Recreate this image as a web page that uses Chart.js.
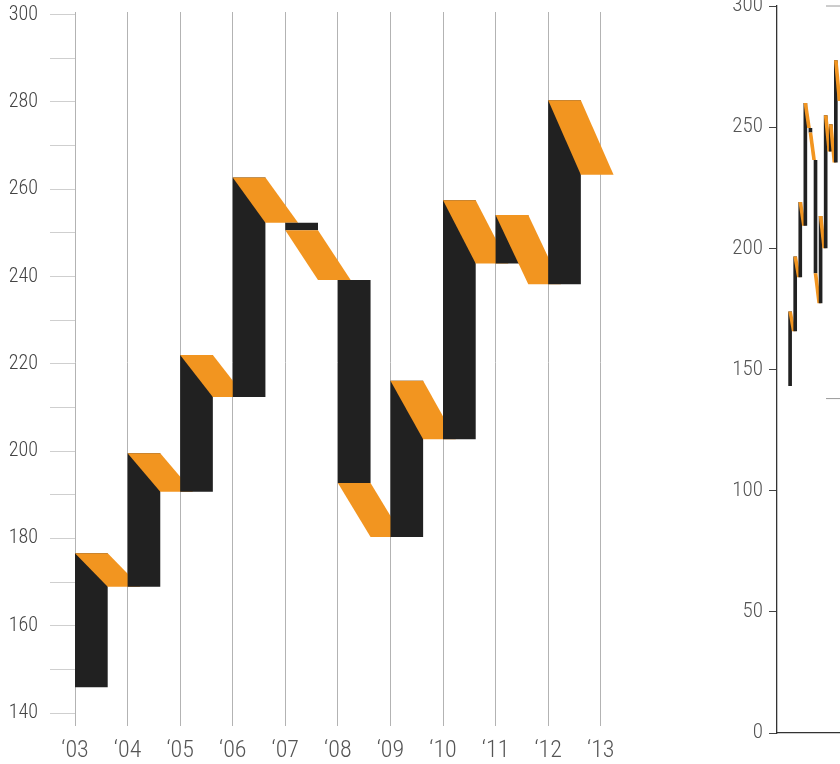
<!DOCTYPE html>
<html>
<head>
<meta charset="utf-8">
<script src="https://cdn.jsdelivr.net/npm/chart.js@4.4.1/dist/chart.umd.min.js"></script>
<style>
  html, body { margin: 0; padding: 0; background: #fff; overflow: hidden; width: 840px; height: 764px; }
  #main { position: absolute; left: 0; top: 0; }
  #inset { position: absolute; left: 700px; top: 0; }
</style>
</head>
<body>
<canvas id="main" width="720" height="764"></canvas>
<canvas id="inset" width="140" height="764"></canvas>
<script>
// anos
const years = ["‘03", "‘04", "‘05", "‘06", "‘07", "‘08", "‘09", "‘10", "‘11", "‘12", "‘13"];

// grafico principal: abertura e fechamento de cada ano
const opens  = [145.9, 168.9, 190.7, 212.4, 252.3, 239.2, 180.3, 202.7, 243.0, 238.2, 263.3];
const closes = [176.6, 199.5, 222.0, 262.7, 250.6, 192.7, 216.1, 257.5, 254.1, 280.4, null];
const yTicks = [140, 150, 160, 170, 180, 190, 200, 210, 220, 230, 240, 250, 260, 270, 280, 290, 300];

const insetOpens  = [143.2, 165.8, 188.1, 209.3, 249.7, 236.4, 177.3, 200.0, 240.0, 235.4, 260.8];
const insetCloses = [173.9, 196.6, 219.1, 260.0, 247.8, 189.7, 213.3, 254.9, 251.2, 277.6, null];
const insetTicks = [0, 50, 100, 150, 200, 250, 300];
const insetMarks = [300, 138];

const BLACK = "#212121";
const ORANGE = "#f29520";
const FONT = "'Roboto Condensed', 'Liberation Sans Narrow', 'DejaVu Sans Condensed', Roboto, sans-serif";

function poly(points, color) {
  return {
    type: "line",
    data: points,
    backgroundColor: color,
    borderColor: "rgba(0,0,0,0)",
    borderWidth: 0,
    pointRadius: 0,
    tension: 0,
    fill: "shape"
  };
}

// preto = ano, laranja = queda ate o proximo ano
function shapes(op, cl, w) {
  const sets = [];
  cl.forEach((c, i) => {
    if (c == null) return;
    const o = op[i];
    const n = op[i + 1];
    sets.push(poly([{x: i, y: o}, {x: i + w, y: o}, {x: i + w, y: c}, {x: i, y: c}, {x: i, y: o}], BLACK));
    sets.push(poly([{x: i, y: c}, {x: i + w, y: c}, {x: i + 2 * w, y: n}, {x: i + w, y: n}, {x: i, y: c}], ORANGE));
  });
  // primeiro desenhado fica embaixo
  sets.forEach((s, k) => s.order = sets.length - k);
  return sets;
}

function noPad(s) {
  s.paddingTop = 0; s.paddingBottom = 0; s.paddingLeft = 0; s.paddingRight = 0;
}

const common = {
  responsive: false,
  animation: false,
  devicePixelRatio: 1,
  plugins: { legend: { display: false }, tooltip: { enabled: false } }
};

new Chart(document.getElementById("main"), {
  type: "line",
  data: { datasets: shapes(opens, closes, 0.622) },
  options: {
    ...common,
    layout: { padding: { top: 12, right: 66.7, bottom: 0, left: 0 } },
    scales: {
      x: {
        type: "linear", min: 0, max: 11,
        afterBuildTicks: s => { s.ticks = years.map((_, i) => ({ value: i })); },
        afterFit: s => { s.height = 51; noPad(s); },
        grid: { color: "#b3b3b3", lineWidth: 1, drawTicks: true, tickLength: 13 },
        border: { display: false },
        ticks: {
          callback: (v, i) => years[i],
          autoSkip: false, maxRotation: 0, padding: 11,
          color: "#555", font: { family: FONT, size: 24, weight: 300 }
        }
      },
      y: {
        type: "linear", min: 140, max: 300.6,
        afterBuildTicks: s => { s.ticks = yTicks.map(v => ({ value: v })); },
        afterFit: s => { s.width = 75; noPad(s); },
        grid: { drawOnChartArea: false, drawTicks: true, tickLength: 25, color: "#cfcfcf" },
        border: { display: false },
        ticks: {
          callback: v => (v % 20 === 0 ? v : ""),
          padding: 12, color: "#444", font: { family: FONT, size: 20, weight: 300 }
        }
      }
    }
  }
});

const insetSets = shapes(insetOpens, insetCloses, 0.72);
insetMarks.forEach(v => insetSets.push({
  type: "line",
  data: [{x: 7.43, y: v}, {x: 11, y: v}],
  borderColor: "#9a9a9a", borderWidth: 1, pointRadius: 0, clip: false, fill: false
}));

new Chart(document.getElementById("inset"), {
  type: "line",
  data: { datasets: insetSets },
  options: {
    ...common,
    layout: { padding: { top: 6, right: 0, bottom: 0, left: 0 } },
    scales: {
      x: {
        type: "linear", min: -2.22, max: 10.18,
        afterFit: s => { s.height = 31; noPad(s); },
        grid: { display: false },
        border: { display: true, color: "#333", width: 1.3 },
        ticks: { display: false }
      },
      y: {
        type: "linear", min: 0, max: 300,
        afterBuildTicks: s => { s.ticks = insetTicks.map(v => ({ value: v })); },
        afterFit: s => { s.width = 77; noPad(s); },
        grid: { drawOnChartArea: false, drawTicks: true, tickLength: 8, color: "#444" },
        border: { display: true, color: "#333", width: 1.3 },
        ticks: { padding: 6, color: "#555", font: { family: FONT, size: 21, weight: 300 } }
      }
    }
  }
});
</script>
</body>
</html>
